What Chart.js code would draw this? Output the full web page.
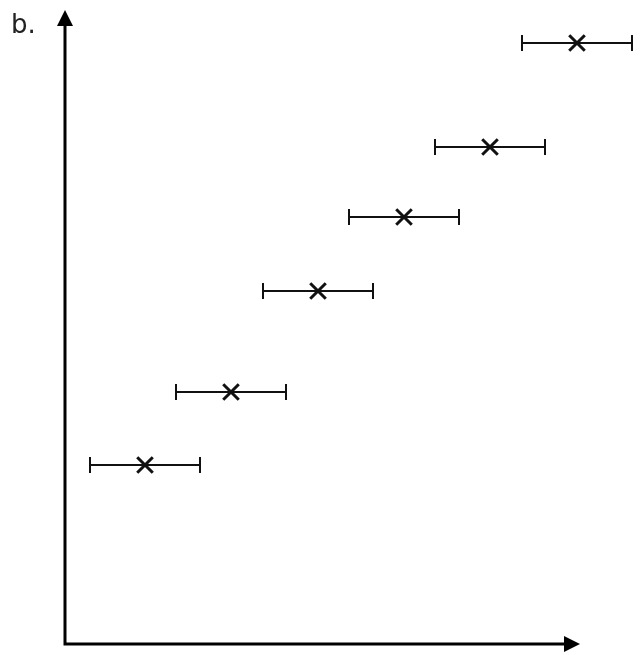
<!DOCTYPE html>
<html>
<head>
<meta charset="utf-8">
<script src="https://cdn.jsdelivr.net/npm/chart.js@4"></script>
<style>
  html, body { margin: 0; padding: 0; background: #fff; }
  #wrap { width: 644px; height: 655px; }
</style>
</head>
<body>
<div id="wrap"><canvas id="myChart" width="644" height="655"></canvas></div>
<script>
// values (arbitrary units, origin at the axes)
var xValues = [8.0, 16.6, 25.3, 33.9, 42.5, 51.2];
var yValues = [17.9, 25.2, 35.3, 42.7, 49.7, 60.1];
var xErrors = [5.5, 5.5, 5.5, 5.5, 5.5, 5.5];
var panelLabel = 'b.';

var points = xValues.map(function (x, i) {
    return { x: x, y: yValues[i] };
});

// draws the arrowed axes, the horizontal error bars and the panel label
var sketchPlugin = {
    id: 'sketch',
    beforeDatasetsDraw: function (chart) {
        var ctx = chart.ctx;
        var xs = chart.scales.x, ys = chart.scales.y;
        ctx.save();
        ctx.strokeStyle = '#111';
        ctx.lineWidth = 2;
        for (var i = 0; i < xValues.length; i++) {
            var py = ys.getPixelForValue(yValues[i]);
            var x1 = xs.getPixelForValue(xValues[i] - xErrors[i]);
            var x2 = xs.getPixelForValue(xValues[i] + xErrors[i]);
            ctx.beginPath();
            ctx.moveTo(x1, py); ctx.lineTo(x2, py);
            ctx.moveTo(x1, py - 8); ctx.lineTo(x1, py + 8);
            ctx.moveTo(x2, py - 8); ctx.lineTo(x2, py + 8);
            ctx.stroke();
        }
        ctx.restore();
    },
    afterDraw: function (chart) {
        var ctx = chart.ctx;
        var area = chart.chartArea;
        var xs = chart.scales.x;
        var left = area.left, bottom = area.bottom, top = area.top;
        var xEnd = xs.getPixelForValue(51.5);
        ctx.save();
        ctx.strokeStyle = '#000';
        ctx.fillStyle = '#000';
        ctx.lineWidth = 3;
        ctx.beginPath();
        ctx.moveTo(left, bottom + 1.5);
        ctx.lineTo(left, top + 14);
        ctx.moveTo(left - 1.5, bottom);
        ctx.lineTo(xEnd - 14, bottom);
        ctx.stroke();
        // arrow heads
        ctx.beginPath();
        ctx.moveTo(left, top);
        ctx.lineTo(left - 8, top + 16);
        ctx.lineTo(left + 8, top + 16);
        ctx.closePath();
        ctx.fill();
        ctx.beginPath();
        ctx.moveTo(xEnd, bottom);
        ctx.lineTo(xEnd - 16, bottom - 8);
        ctx.lineTo(xEnd - 16, bottom + 8);
        ctx.closePath();
        ctx.fill();
        ctx.font = '26px "DejaVu Sans", sans-serif';
        ctx.textBaseline = 'alphabetic';
        ctx.fillStyle = '#222';
        ctx.fillText(panelLabel, 11, 33);
        ctx.restore();
    }
};

var ctx = document.getElementById('myChart').getContext('2d');
var myChart = new Chart(ctx, {
    type: 'scatter',
    data: {
        datasets: [{
            data: points,
            pointStyle: 'crossRot',
            pointRadius: 11,
            pointHoverRadius: 11,
            borderColor: '#111',
            borderWidth: 3,
            pointBorderWidth: 3
        }]
    },
    options: {
        responsive: false,
        animation: false,
        layout: { autoPadding: false, padding: { left: 65, right: 0, top: 10, bottom: 11 } },
        plugins: { legend: { display: false }, tooltip: { enabled: false } },
        scales: {
            x: { type: 'linear', min: 0, max: 57.9, display: false },
            y: { type: 'linear', min: 0, max: 63.4, display: false }
        }
    },
    plugins: [sketchPlugin]
});
</script>
</body>
</html>
